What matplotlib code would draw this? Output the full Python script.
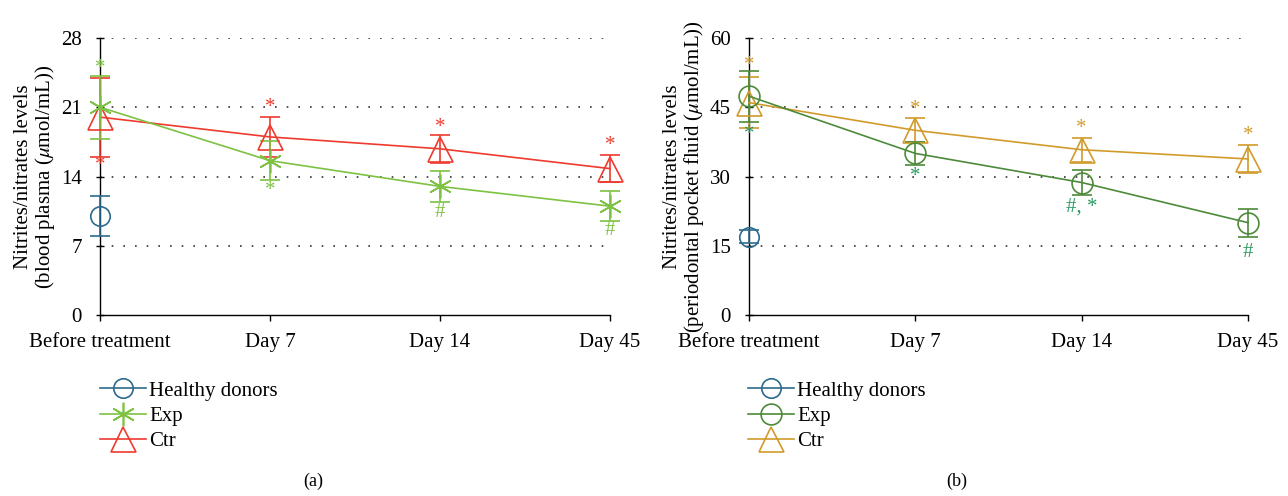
import matplotlib
matplotlib.use('Agg')
import matplotlib.pyplot as plt
from matplotlib.lines import Line2D

plt.rcParams['font.family'] = ['Liberation Serif', 'DejaVu Serif']
plt.rcParams['mathtext.fontset'] = 'stix'

days = ['Before treatment', 'Day 7', 'Day 14', 'Day 45']
x = [0, 1, 2, 3]

# panel (a): blood plasma
a_healthy = [10.0]
a_healthy_err = [2.0]
a_exp = [21.0, 15.6, 13.0, 11.0]
a_exp_err = [3.2, 2.0, 1.6, 1.5]
a_ctr = [20.0, 18.0, 16.8, 14.8]
a_ctr_err = [4.0, 2.0, 1.4, 1.4]
a_exp_marks = ['*', '*', '#', '#']
a_exp_mark_y = [24.9, 12.6, 10.4, 8.5]
a_ctr_marks = ['*', '*', '*', '*']
a_ctr_mark_y = [15.1, 21.0, 19.0, 17.1]

# panel (b): periodontal pocket fluid
b_healthy = [17.0]
b_healthy_err = [1.5]
b_exp = [47.4, 35.0, 28.7, 20.0]
b_exp_err = [5.5, 2.5, 2.7, 3.0]
b_ctr = [46.0, 40.0, 35.8, 33.8]
b_ctr_err = [5.5, 2.6, 2.6, 3.0]
b_exp_marks = ['*', '*', '#, *', '#']
b_exp_mark_y = [39.2, 30.1, 23.3, 13.5]
b_ctr_marks = ['*', '*', '*', '*']
b_ctr_mark_y = [54.0, 44.6, 40.3, 38.8]

blue = '#2c6b8e'
green_a = '#7dc242'
red = '#ee3a2f'
green_b = '#4d8a3a'
gold = '#d19b2c'
teal = '#2a9a60'

FS = 15

fig = plt.figure(figsize=(12.88, 4.96), dpi=100)
ax1 = fig.add_axes([100 / 1288, 1 - 315 / 496, 510 / 1288, 277 / 496])
ax2 = fig.add_axes([749 / 1288, 1 - 315 / 496, 499 / 1288, 277 / 496])

asterisk = (6, 2, 0)


def style_axes(ax, yticks, ylabel):
    ax.set_xlim(0, 3)
    ax.set_ylim(yticks[0], yticks[-1])
    ax.set_yticks(yticks)
    ax.set_xticks(x)
    ax.set_xticklabels(days)
    for s in ['top', 'right']:
        ax.spines[s].set_visible(False)
    for s in ['left', 'bottom']:
        ax.spines[s].set_linewidth(1.0)
    ax.tick_params(axis='both', labelsize=FS, width=1.0)
    ax.tick_params(axis='x', direction='out', length=4, pad=9)
    ax.tick_params(axis='y', direction='inout', length=6, pad=10)
    for yt in yticks[1:]:
        ax.axhline(yt, color='#333333', lw=1.2, ls=(0, (1, 6)), zorder=0)
    ax.set_ylabel(ylabel, fontsize=FS, labelpad=3, linespacing=1.0)


def draw_series(ax, xs, ys, errs, color, marker, ms, mew=1.2, zorder=3):
    ax.errorbar(xs, ys, yerr=errs, color=color, marker=marker, ms=ms, mfc='none',
                mec=color, mew=mew, lw=1.2, elinewidth=1.2, capsize=7, capthick=1.2,
                clip_on=False, zorder=zorder)


# panel (a)
style_axes(ax1, [0, 7, 14, 21, 28], 'Nitrites/nitrates levels\n(blood plasma ($\\mu$mol/mL))')
draw_series(ax1, [0], a_healthy, a_healthy_err, blue, 'o', 14)
draw_series(ax1, x, a_ctr, a_ctr_err, red, '^', 18)
draw_series(ax1, x, a_exp, a_exp_err, green_a, asterisk, 17)
for xi, m, yy in zip(x, a_exp_marks, a_exp_mark_y):
    ax1.text(xi, yy, m, color=green_a, ha='center', va='center', fontsize=FS)
for xi, m, yy in zip(x, a_ctr_marks, a_ctr_mark_y):
    ax1.text(xi, yy, m, color=red, ha='center', va='center', fontsize=FS)

# panel (b)
style_axes(ax2, [0, 15, 30, 45, 60], 'Nitrites/nitrates levels\n(periodontal pocket fluid ($\\mu$mol/mL))')
draw_series(ax2, [0], b_healthy, b_healthy_err, blue, 'o', 14)
draw_series(ax2, x, b_ctr, b_ctr_err, gold, '^', 18)
draw_series(ax2, x, b_exp, b_exp_err, green_b, 'o', 15)
for xi, m, yy in zip(x, b_exp_marks, b_exp_mark_y):
    ax2.text(xi, yy, m, color=teal, ha='center', va='center', fontsize=FS)
for xi, m, yy in zip(x, b_ctr_marks, b_ctr_mark_y):
    ax2.text(xi, yy, m, color=gold, ha='center', va='center', fontsize=FS)


# legends
def legend(ax, exp_color, exp_marker, exp_ms, ctr_color, left_px):
    handles = [
        Line2D([], [], color=blue, marker='o', ms=14, mfc='none', lw=1.2, mew=1.2),
        Line2D([], [], color=exp_color, marker=exp_marker, ms=exp_ms, mfc='none', lw=1.2, mew=1.2),
        Line2D([], [], color=ctr_color, marker='^', ms=18, mfc='none', lw=1.2, mew=1.2),
    ]
    ax.legend(handles, ['Healthy donors', 'Exp', 'Ctr'], loc='upper left',
              bbox_to_anchor=(left_px / 1288, 1 - 381 / 496), bbox_transform=fig.transFigure,
              frameon=False, fontsize=FS, handlelength=2.2, labelspacing=0.28,
              borderaxespad=0, borderpad=0, handletextpad=0.15)


legend(ax1, green_a, asterisk, 17, red, 100)
legend(ax2, green_b, 'o', 15, gold, 748)

fig.text(313 / 1288, 1 - 481 / 496, '(a)', ha='center', va='center', fontsize=13)
fig.text(957 / 1288, 1 - 481 / 496, '(b)', ha='center', va='center', fontsize=13)

fig.savefig('out.png', dpi=100)
